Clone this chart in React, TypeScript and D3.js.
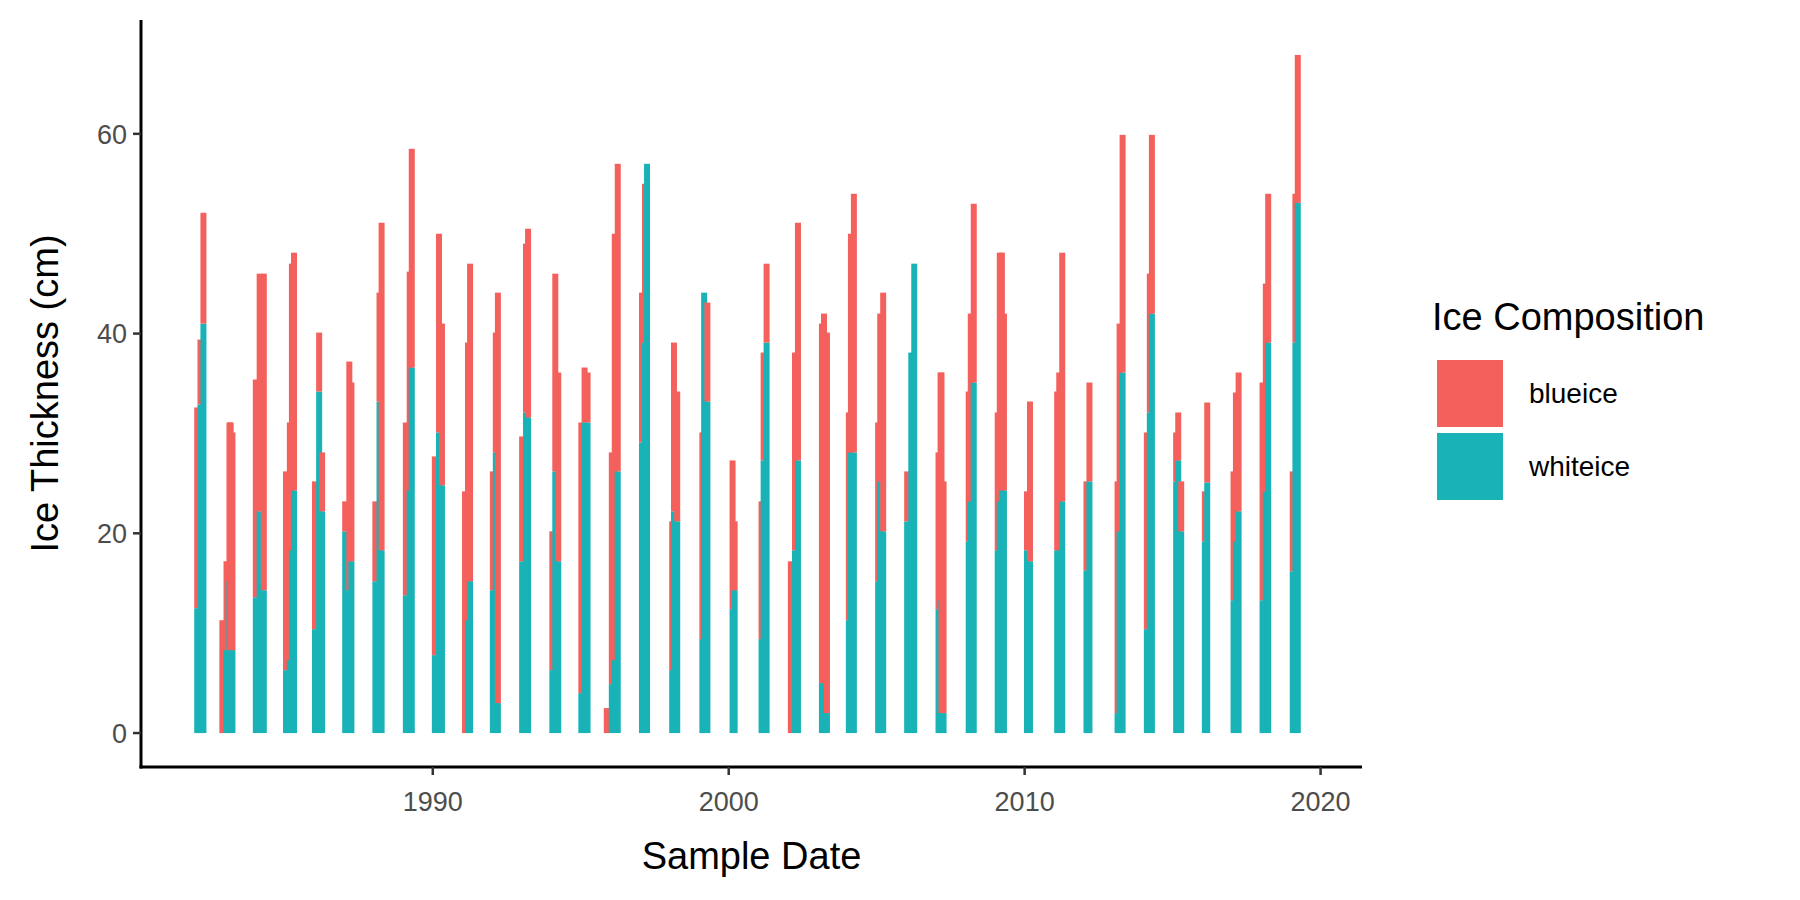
import React from "react";
import * as d3 from "d3";

// Sample dates (decimal years), in drawing order
const sampleDate = [
  1982.04, 1982.15, 1982.25, 1982.89, 1983.03, 1983.13, 1983.17, 1983.23,
  1984.02, 1984.15, 1984.29, 1985.04, 1985.17, 1985.24, 1985.31,
  1986.02, 1986.16, 1986.26, 1987.04, 1987.18, 1987.25,
  1988.06, 1988.20, 1988.27, 1989.09, 1989.22, 1989.29,
  1990.07, 1990.21, 1990.31, 1991.09, 1991.19, 1991.26,
  1992.03, 1992.13, 1992.20, 1993.02, 1993.15, 1993.22,
  1994.04, 1994.14, 1994.24, 1995.02, 1995.13, 1995.23, 1995.88,
  1996.05, 1996.15, 1996.25, 1997.07, 1997.17, 1997.24,
  1998.09, 1998.15, 1998.26, 1999.11, 1999.17, 1999.28,
  2000.13, 2000.20, 2001.11, 2001.18, 2001.28,
  2002.10, 2002.24, 2002.34, 2003.15, 2003.22, 2003.32,
  2004.06, 2004.13, 2004.23, 2005.05, 2005.12, 2005.22,
  2006.03, 2006.17, 2006.27, 2007.09, 2007.16, 2007.26, 2007.19,
  2008.11, 2008.18, 2008.28, 2009.09, 2009.16, 2009.30, 2009.23,
  2010.08, 2010.18, 2011.10, 2011.17, 2011.27,
  2012.09, 2012.19, 2013.14, 2013.21, 2013.31,
  2014.13, 2014.23, 2014.30, 2015.12, 2015.19, 2015.29,
  2016.09, 2016.17, 2017.06, 2017.14, 2017.23,
  2018.04, 2018.15, 2018.23, 2019.06, 2019.15, 2019.23,
];

const whiteIce = [
  12.5, 32.9, 41.0, 0, 8.3, 15.2, 8.3, 8.3,
  13.6, 22.2, 14.3, 6.3, 7.3, 18.3, 24.3,
  10.4, 34.2, 22.2, 20.2, 14.3, 17.2,
  15.2, 33.2, 18.3, 13.8, 24.3, 36.6,
  7.8, 30.1, 24.8, 0, 11.3, 15.2,
  14.3, 28.1, 3.0, 17.2, 32.1, 31.6,
  6.3, 26.2, 17.2, 4.0, 31.1, 31.1, 0,
  4.9, 7.3, 26.2, 29.1, 39.1, 57.0,
  6.3, 22.2, 21.2, 9.4, 44.1, 33.2,
  12.4, 14.3, 9.4, 27.3, 39.1,
  0, 18.3, 27.3, 5.0, 5.0, 2.0,
  11.3, 28.1, 28.1, 15.2, 25.2, 20.2,
  21.2, 38.1, 47.0, 12.4, 13.3, 2.0, 2.0,
  19.2, 23.2, 35.1, 18.3, 23.2, 24.3, 24.3,
  18.3, 17.2, 18.3, 18.3, 23.2,
  16.3, 25.2, 2.0, 20.2, 36.1,
  10.4, 32.1, 42.0, 25.2, 27.3, 20.2,
  19.2, 25.1, 13.3, 19.2, 22.2,
  13.3, 24.2, 39.1, 16.2, 39.1, 53.1,
];

const blueIce = [
  20.1, 6.5, 11.1, 11.3, 8.9, 15.9, 22.8, 21.8,
  21.8, 23.8, 31.7, 19.9, 23.8, 28.7, 23.8,
  14.8, 5.9, 5.9, 3.0, 22.9, 17.9,
  8.0, 10.9, 32.8, 17.3, 21.9, 21.9,
  19.9, 19.9, 16.2, 24.2, 27.8, 31.8,
  11.9, 12.0, 41.1, 12.5, 16.9, 18.9,
  13.9, 19.8, 18.9, 27.1, 5.5, 5.0, 2.5,
  23.2, 42.7, 30.8, 15.0, 15.9, 0,
  14.9, 16.9, 13.0, 20.7, 0, 9.9,
  14.9, 6.9, 13.8, 10.8, 7.9,
  17.2, 19.8, 23.8, 36.0, 37.0, 38.1,
  20.8, 21.9, 25.9, 15.9, 16.8, 23.9,
  5.0, 0, 0, 15.7, 22.8, 23.2, 34.1,
  15.0, 18.8, 17.9, 13.8, 24.9, 17.7, 23.8,
  5.9, 16.0, 15.9, 17.8, 24.9,
  8.9, 9.9, 23.2, 20.8, 23.8,
  19.7, 13.9, 17.9, 4.9, 4.8, 5.0,
  5.0, 8.0, 12.9, 14.9, 13.9,
  21.8, 20.8, 14.9, 10.0, 14.9, 14.8,
];

const xTicks = [1990, 2000, 2010, 2020];
const yTicks = [0, 20, 40, 60];
const legendLabels = ["blueice", "whiteice"];
const colors: Record<string, string> = { blueice: "#F4615C", whiteice: "#19B3B7" };

export default function App() {
  const W = 1800, H = 900;
  const left = 141, right = 1362, top = 20, bottom = 767;
  const x = d3.scaleLinear().domain([1980.14, 2021.4]).range([left, right]);
  const y = d3.scaleLinear().domain([-3.4, 71.4]).range([bottom, top]);
  const barW = x(1980.14 + 0.203) - x(1980.14);
  const font = "'Liberation Sans', Arial, sans-serif";

  return (
    <svg width={W} height={H} style={{ position: "absolute", left: 0, top: 0, background: "#fff" }} fontFamily={font}>
      {sampleDate.map((d, i) => {
        const x0 = x(d) - barW / 2;
        const w = whiteIce[i];
        const t = w + blueIce[i];
        return (
          <g key={i}>
            {w > 0 && <rect x={x0} width={barW} y={y(w)} height={y(0) - y(w)} fill={colors.whiteice} />}
            {blueIce[i] > 0 && <rect x={x0} width={barW} y={y(t)} height={y(w) - y(t)} fill={colors.blueice} />}
          </g>
        );
      })}
      {/* axes */}
      <line x1={left} x2={left} y1={top} y2={bottom + 1.5} stroke="#000" strokeWidth={3} />
      <line x1={left - 1.5} x2={right} y1={bottom} y2={bottom} stroke="#000" strokeWidth={3} />
      {yTicks.map((v) => (
        <g key={v}>
          <line x1={left - 8} x2={left} y1={y(v)} y2={y(v)} stroke="#333" strokeWidth={2.5} />
          <text x={left - 14} y={y(v)} dy="0.36em" textAnchor="end" fontSize={27} fill="#4D4D4D">{v}</text>
        </g>
      ))}
      {xTicks.map((v) => (
        <g key={v}>
          <line x1={x(v)} x2={x(v)} y1={bottom} y2={bottom + 8} stroke="#333" strokeWidth={2.5} />
          <text x={x(v)} y={bottom + 44} textAnchor="middle" fontSize={27} fill="#4D4D4D">{v}</text>
        </g>
      ))}
      <text x={(left + right) / 2} y={869} textAnchor="middle" fontSize={38}>Sample Date</text>
      <text transform={`translate(58,${(top + bottom) / 2}) rotate(-90)`} textAnchor="middle" fontSize={38}>Ice Thickness (cm)</text>
      {/* legend */}
      <text x={1432} y={330} fontSize={38}>Ice Composition</text>
      {legendLabels.map((l, i) => (
        <g key={l}>
          <rect x={1437} y={360 + i * 73} width={66} height={67} fill={colors[l]} />
          <text x={1529} y={393 + i * 73} dy="0.36em" fontSize={28}>{l}</text>
        </g>
      ))}
    </svg>
  );
}
